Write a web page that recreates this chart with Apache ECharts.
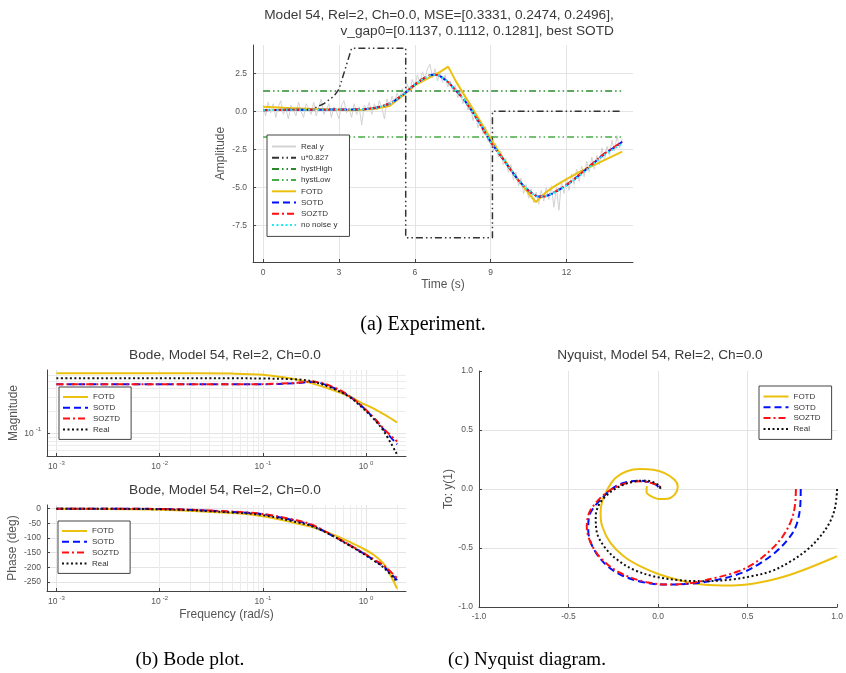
<!DOCTYPE html>
<html>
<head>
<meta charset="utf-8">
<script src="https://cdn.jsdelivr.net/npm/echarts@6/dist/echarts.min.js"></script>
<style>
  html, body { margin: 0; padding: 0; background: #fff; }
  #chart { width: 846px; height: 673px; }
</style>
</head>
<body>
<div id="chart"></div>
<script>
// ---- (a) experiment, time domain ----
// noisy measured output, one sample every 0.1 s from t = 0
const realY = [
  0.4, -0.3, 0.6, -0.1, 0.5, -0.4, 0.3, 0.7, -0.2, 0.2,
  -0.5, 0.4, 0.1, -0.3, 0.6, 0.0, -0.4, 0.5, 0.2, -0.2,
  0.6, -0.3, 0.3, 0.8, -0.2, 0.1, 0.5, -0.4, 0.3, 0.0,
  -0.5, 0.4, 0.7, -0.1, 0.2, -0.4, 0.5, -0.2, 0.3, -0.9,
  0.4, 0.1, 0.6, -0.2, 0.5, 0.1, 0.7, 0.2, -0.5, 0.8,
  0.3, 1.0, 0.6, 1.2, 0.8, 1.5, 1.0, 1.8, 1.3, 2.1,
  1.6, 2.4, 1.9, 2.6, 2.1, 2.8, 3.1, 2.2, 2.8, 2.0,
  2.6, 1.9, 2.4, 1.6, 2.0, 1.3, 1.7, 0.9, 1.4, 0.5,
  0.9, 0.1, 0.5, -0.6, -0.1, -1.1, -0.6, -1.5, -1.0, -2.0,
  -1.6, -2.6, -2.1, -3.0, -2.6, -3.5, -3.1, -4.0, -3.5, -4.5,
  -4.0, -4.9, -4.4, -5.4, -4.8, -5.7, -5.1, -6.0, -5.3, -6.1,
  -5.2, -5.9, -5.0, -5.8, -4.9, -6.3, -5.0, -6.5, -4.6, -5.4,
  -4.4, -5.2, -4.1, -4.8, -3.8, -4.6, -3.6, -4.3, -3.3, -4.0,
  -3.0, -3.8, -2.9, -3.5, -2.4, -3.2, -2.3, -2.9, -1.9, -2.6,
  -1.6, -2.4, -1.8
];
const tReal = realY.map((_, i) => +(i * 0.1).toFixed(1));

const tU = [0, 1.9, 2.4, 2.8, 3.0, 3.5, 5.64, 5.64, 9.07, 9.07, 14.2];
const uY = [0.1, 0.1, 0.5, 1.0, 1.45, 4.15, 4.15, -8.3, -8.3, 0, 0];

const tHyst = [0, 14.2];
const hystHighY = [1.34, 1.34];
const hystLowY = [-1.69, -1.69];

const tFotd = [0, 1, 2, 3, 3.5, 4, 4.5, 5, 5.5, 6, 6.5, 7, 7.32, 7.6, 8, 8.5, 9, 9.5, 10, 10.5, 10.79, 11.2, 11.5, 12, 12.5, 13, 13.5, 14.2];
const fotdY = [0.3, 0.22, 0.15, 0.1, 0.08, 0.1, 0.18, 0.35, 1.0, 1.7, 2.15, 2.6, 2.94, 2.05, 0.95, -0.4, -1.8, -3.1, -4.3, -5.4, -5.96, -5.3, -4.95, -4.45, -4.0, -3.6, -3.2, -2.65];

const tFit = [0, 1, 2, 3, 3.5, 4, 4.5, 5, 5.25, 5.5, 5.75, 6, 6.25, 6.5, 6.7, 6.9, 7.1, 7.3, 7.5, 7.75, 8, 8.5, 9, 9.5, 10, 10.25, 10.5, 10.7, 10.9, 11.1, 11.3, 11.5, 12, 12.5, 13, 13.5, 14, 14.2];
const sotdY = [0.08, 0.1, 0.1, 0.12, 0.12, 0.14, 0.25, 0.5, 0.75, 1.05, 1.4, 1.75, 2.05, 2.28, 2.4, 2.38, 2.2, 1.95, 1.6, 1.15, 0.65, -0.6, -2.0, -3.15, -4.3, -4.8, -5.2, -5.45, -5.6, -5.6, -5.5, -5.35, -4.85, -4.2, -3.5, -2.8, -2.25, -2.0];
const soztdY = [0.08, 0.1, 0.1, 0.12, 0.13, 0.15, 0.26, 0.52, 0.77, 1.07, 1.42, 1.77, 2.07, 2.3, 2.42, 2.39, 2.21, 1.95, 1.6, 1.14, 0.64, -0.62, -2.02, -3.17, -4.32, -4.82, -5.22, -5.46, -5.6, -5.6, -5.49, -5.33, -4.82, -4.17, -3.47, -2.78, -2.22, -1.98];
const noNoiseY = [0.08, 0.1, 0.1, 0.12, 0.12, 0.14, 0.25, 0.5, 0.75, 1.05, 1.4, 1.75, 2.05, 2.28, 2.4, 2.38, 2.2, 1.95, 1.6, 1.15, 0.65, -0.6, -2.0, -3.15, -4.3, -4.8, -5.2, -5.45, -5.6, -5.6, -5.5, -5.35, -4.87, -4.24, -3.55, -2.87, -2.33, -2.12];

// ---- (b) Bode ----
const wBode = [0.001, 0.01, 0.05, 0.1, 0.2, 0.3, 0.5, 0.7, 0.9, 1.2, 1.5, 2.0];
const magFotd = [0.631, 0.631, 0.625, 0.604, 0.53, 0.464, 0.37, 0.308, 0.256, 0.213, 0.179, 0.14];
const magSotd = [0.45, 0.45, 0.45, 0.452, 0.464, 0.483, 0.398, 0.308, 0.233, 0.158, 0.111, 0.072];
const magSoztd = [0.45, 0.45, 0.45, 0.453, 0.468, 0.49, 0.405, 0.31, 0.235, 0.16, 0.114, 0.078];
const magReal = [0.541, 0.541, 0.541, 0.538, 0.525, 0.494, 0.386, 0.302, 0.226, 0.154, 0.105, 0.0525];
const phFotd = [0, -3.4, -15, -26, -48, -62.5, -91, -114, -133, -159, -191, -273];
const phSotd = [0, -1, -11, -19, -40, -57, -97, -125, -148, -176, -199, -244];
const phSoztd = [0, -1, -10, -18, -38, -55, -96, -125, -147, -174, -195, -238];
const phReal = [0, -2, -13, -22, -44, -60, -97, -127, -150, -178, -203, -250];

// ---- (c) Nyquist ----
const nyFotdRe = [1.0, 0.742, 0.559, 0.412, 0.247, 0.119, 0.009, -0.101, -0.192, -0.266, -0.312, -0.321, -0.312, -0.284, -0.238, -0.174, -0.101, -0.027, 0.037, 0.092, 0.11, 0.097, 0.055, 0.009, -0.037, -0.064, -0.064, -0.06];
const nyFotdIm = [-0.57, -0.725, -0.795, -0.818, -0.81, -0.773, -0.725, -0.654, -0.57, -0.457, -0.316, -0.203, -0.104, -0.006, 0.093, 0.15, 0.169, 0.164, 0.135, 0.079, 0.023, -0.039, -0.082, -0.085, -0.062, -0.028, 0.008, 0.023];
const nySotdRe = [0.797, 0.794, 0.77, 0.724, 0.651, 0.559, 0.467, 0.339, 0.192, 0.046, -0.082, -0.211, -0.302, -0.367, -0.39, -0.385, -0.361, -0.321, -0.275, -0.22, -0.156, -0.101, -0.046, -0.009, 0.009];
const nySotdIm = [0, -0.147, -0.316, -0.429, -0.542, -0.64, -0.711, -0.767, -0.801, -0.81, -0.79, -0.725, -0.626, -0.485, -0.344, -0.231, -0.161, -0.09, -0.02, 0.037, 0.065, 0.071, 0.056, 0.034, 0];
const nySoztdRe = [0.77, 0.764, 0.742, 0.697, 0.632, 0.541, 0.449, 0.321, 0.192, 0.073, -0.064, -0.211, -0.312, -0.376, -0.398, -0.385, -0.348, -0.302, -0.247, -0.174, -0.101, -0.037, 0.009, 0.018];
const nySoztdIm = [0, -0.147, -0.274, -0.4, -0.513, -0.626, -0.697, -0.753, -0.795, -0.81, -0.79, -0.711, -0.598, -0.457, -0.316, -0.203, -0.118, -0.048, 0.008, 0.051, 0.065, 0.051, 0.023, 0];
const nyRealRe = [1.0, 0.99, 0.962, 0.907, 0.834, 0.742, 0.632, 0.522, 0.412, 0.266, 0.119, -0.027, -0.137, -0.229, -0.302, -0.343, -0.348, -0.33, -0.293, -0.247, -0.192, -0.128, -0.064, -0.018, 0.009, 0.013];
const nyRealIm = [0, -0.147, -0.274, -0.4, -0.513, -0.612, -0.697, -0.739, -0.767, -0.781, -0.773, -0.739, -0.683, -0.598, -0.485, -0.358, -0.231, -0.133, -0.062, -0.006, 0.037, 0.065, 0.071, 0.051, 0.023, 0];

const FONT = 'Liberation Sans';
const COL = {
  fotd: '#ecc00f', sotd: '#0010ff', soztd: '#ff1010', real: '#111111',
  cyan: '#20ecf4', hystHigh: '#2a8a2a', hystLow: '#46ac46', u: '#333333', noisy: '#d2d2d2'
};
const DASH = [7, 4];
const DASHDOT = [7, 3, 2, 3];
const DOT = [2, 2.5];
const DASHDOTDOT = [7, 3, 1.5, 3, 1.5, 3];

function mk(name, gi, xs, ys, color, width, dash, z, smooth) {
  return {
    name, type: 'line', xAxisIndex: gi, yAxisIndex: gi,
    data: xs.map((x, i) => [x, ys[i]]),
    symbol: 'none', showSymbol: false, animation: false, silent: true,
    smooth: smooth || false,
    lineStyle: { color, width, type: dash || 'solid' },
    itemStyle: { color }, z: z || 2
  };
}

const labelStyle = { color: '#555', fontSize: 8.5, fontFamily: FONT };
const nameStyle = { color: '#555', fontSize: 12, fontFamily: FONT };
const axisLine = { show: true, onZero: false, lineStyle: { color: '#444', width: 1 } };
const axisTick = { show: true, inside: true, length: 3, lineStyle: { color: '#444' } };
const splitLine = { show: true, showMinLine: false, showMaxLine: false, lineStyle: { color: '#e4e4e4', width: 1 } };

const logLabel = {
  ...labelStyle,
  showMinLabel: false, showMaxLabel: false,
  formatter: v => '{b|10}{s|' + Math.round(Math.log10(v)) + '}',
  rich: {
    b: { fontSize: 8.5, color: '#555', fontFamily: FONT, lineHeight: 14 },
    s: { fontSize: 6, color: '#555', fontFamily: FONT, lineHeight: 7, verticalAlign: 'top', padding: [0, 0, 0, 2] }
  }
};

// minor grid of the log axes
const minorW = [];
for (let d = -3; d <= 0; d++) for (let k = 2; k <= 9; k++) { const v = k * Math.pow(10, d); if (v < 2.4) minorW.push(v); }
const minorMag = [0.06, 0.07, 0.08, 0.09, 0.2, 0.3, 0.4, 0.5, 0.6];
const minorLine = (xs, ys) => ({
  silent: true, symbol: ['none', 'none'], label: { show: false }, animation: false, z: 0,
  lineStyle: { color: '#ececec', width: 1, type: 'solid' },
  emphasis: { disabled: true },
  data: xs.map(v => ({ xAxis: v })).concat(ys.map(v => ({ yAxis: v })))
});

const legendBase = {
  orient: 'vertical', backgroundColor: '#fff', borderColor: '#444', borderWidth: 1,
  borderRadius: 0, itemWidth: 25, itemHeight: 8, itemGap: 2.8, z: 10,
  itemStyle: { opacity: 0, borderWidth: 0 },
  textStyle: { color: '#333', fontSize: 8, fontFamily: FONT, lineHeight: 8 },
  selectedMode: false
};
const fitNames = ['FOTD', 'SOTD', 'SOZTD', 'Real'];

const titleStyle = { color: '#3a3a3a', fontSize: 13.7, fontWeight: 'normal', fontFamily: FONT };
const SM = 0.35;

const option = {
  animation: false,
  backgroundColor: '#fff',
  textStyle: { fontFamily: FONT },
  title: [
    { text: 'Model 54, Rel=2, Ch=0.0, MSE=[0.3331, 0.2474, 0.2496],', left: 439, top: 8, textAlign: 'center', padding: 0, textStyle: titleStyle },
    { text: 'v_gap0=[0.1137, 0.1112, 0.1281], best SOTD', right: 232, top: 24.5, padding: 0, textStyle: titleStyle },
    { text: 'Bode, Model 54, Rel=2, Ch=0.0', left: 225, top: 348, textAlign: 'center', padding: 0, textStyle: titleStyle },
    { text: 'Bode, Model 54, Rel=2, Ch=0.0', left: 225, top: 483, textAlign: 'center', padding: 0, textStyle: titleStyle },
    { text: 'Nyquist, Model 54, Rel=2, Ch=0.0', left: 660, top: 348, textAlign: 'center', padding: 0, textStyle: titleStyle }
  ],
  legend: [
    { ...legendBase, left: 267, top: 135, itemWidth: 24, itemGap: 3.2, padding: [7.5, 12, 7.5, 4],
      data: ['Real y', 'u*0.827', 'hystHigh', 'hystLow', 'FOTD', 'SOTD', 'SOZTD', 'no noise y'] },
    { ...legendBase, left: 59, top: 387, padding: [6, 11, 6, 3], data: fitNames },
    { ...legendBase, left: 58, top: 521, padding: [6, 11, 6, 3], data: fitNames },
    { ...legendBase, left: 759, top: 386, padding: [6.5, 11, 6.5, 3.5], data: fitNames }
  ],
  grid: [
    { left: 253, top: 45, width: 380, height: 217 },
    { left: 47, top: 370, width: 359, height: 86 },
    { left: 47, top: 505, width: 359, height: 86 },
    { left: 479, top: 371, width: 364, height: 236 }
  ],
  xAxis: [
    { gridIndex: 0, type: 'value', min: -0.4, max: 14.63, minInterval: 3, maxInterval: 3,
      name: 'Time (s)', nameLocation: 'middle', nameGap: 17, nameTextStyle: nameStyle,
      axisLine, axisTick, splitLine,
      axisLabel: { ...labelStyle, showMinLabel: false, showMaxLabel: false, margin: 6 } },
    { gridIndex: 1, type: 'log', logBase: 10, min: 0.00081, max: 2.44,
      axisLine, axisTick, splitLine, axisLabel: { ...logLabel, margin: 4 } },
    { gridIndex: 2, type: 'log', logBase: 10, min: 0.00081, max: 2.44,
      name: 'Frequency (rad/s)', nameLocation: 'middle', nameGap: 18, nameTextStyle: nameStyle,
      axisLine, axisTick, splitLine, axisLabel: { ...logLabel, margin: 4 } },
    { gridIndex: 3, type: 'value', min: -1, max: 1, interval: 0.5,
      axisLine, axisTick, splitLine: { ...splitLine, showMinLine: true },
      axisLabel: { ...labelStyle, margin: 5, formatter: v => v.toFixed(1) } }
  ],
  yAxis: [
    { gridIndex: 0, type: 'value', min: -9.9, max: 4.36, minInterval: 2.5, maxInterval: 2.5,
      name: 'Amplitude', nameLocation: 'middle', nameGap: 26, nameTextStyle: nameStyle,
      axisLine, axisTick, splitLine,
      axisLabel: { ...labelStyle, showMinLabel: false, showMaxLabel: false, margin: 6, formatter: v => v.toFixed(1) } },
    { gridIndex: 1, type: 'log', logBase: 10, min: 0.0502, max: 0.698,
      name: 'Magnitude', nameLocation: 'middle', nameGap: 27, nameTextStyle: nameStyle,
      axisLine, axisTick, splitLine, axisLabel: { ...logLabel, margin: 6 } },
    { gridIndex: 2, type: 'value', min: -281, max: 12.5, minInterval: 50, maxInterval: 50,
      name: 'Phase (deg)', nameLocation: 'middle', nameGap: 28, nameTextStyle: nameStyle,
      axisLine, axisTick, splitLine,
      axisLabel: { ...labelStyle, showMinLabel: false, showMaxLabel: false, margin: 6 } },
    { gridIndex: 3, type: 'value', min: -1, max: 1, interval: 0.5,
      name: 'To: y(1)', nameLocation: 'middle', nameGap: 24, nameTextStyle: nameStyle,
      axisLine, axisTick, splitLine: { ...splitLine, showMinLine: true },
      axisLabel: { ...labelStyle, margin: 6, formatter: v => v.toFixed(1) } }
  ],
  series: [
    mk('Real y', 0, tReal, realY, COL.noisy, 1, 'solid', 1),
    mk('u*0.827', 0, tU, uY, COL.u, 1.5, DASHDOTDOT),
    mk('hystHigh', 0, tHyst, hystHighY, COL.hystHigh, 1.5, DASHDOTDOT),
    mk('hystLow', 0, tHyst, hystLowY, COL.hystLow, 1.5, DASHDOTDOT),
    mk('FOTD', 0, tFotd, fotdY, COL.fotd, 2),
    mk('SOTD', 0, tFit, sotdY, COL.sotd, 2, DASH, 2, SM),
    mk('SOZTD', 0, tFit, soztdY, COL.soztd, 2, DASHDOT, 2, SM),
    mk('no noise y', 0, tFit, noNoiseY, COL.cyan, 2, DOT, 2, SM),

    Object.assign(mk('FOTD', 1, wBode, magFotd, COL.fotd, 2, 'solid', 2, SM), { markLine: minorLine(minorW, minorMag) }),
    mk('SOTD', 1, wBode, magSotd, COL.sotd, 2, DASH, 2, SM),
    mk('SOZTD', 1, wBode, magSoztd, COL.soztd, 2, DASHDOT, 2, SM),
    mk('Real', 1, wBode, magReal, COL.real, 2, DOT, 2, SM),

    Object.assign(mk('FOTD', 2, wBode, phFotd, COL.fotd, 2, 'solid', 2, SM), { markLine: minorLine(minorW, []) }),
    mk('SOTD', 2, wBode, phSotd, COL.sotd, 2, DASH, 2, SM),
    mk('SOZTD', 2, wBode, phSoztd, COL.soztd, 2, DASHDOT, 2, SM),
    mk('Real', 2, wBode, phReal, COL.real, 2, DOT, 2, SM),

    mk('FOTD', 3, nyFotdRe, nyFotdIm, COL.fotd, 2, 'solid', 2, SM),
    mk('SOTD', 3, nySotdRe, nySotdIm, COL.sotd, 2, DASH, 2, SM),
    mk('SOZTD', 3, nySoztdRe, nySoztdIm, COL.soztd, 2, DASHDOT, 2, SM),
    mk('Real', 3, nyRealRe, nyRealIm, COL.real, 2, DOT, 2, SM)
  ],
  graphic: [
    { type: 'text', x: 423, y: 325, style: { text: '(a) Experiment.', font: '20px "Liberation Serif"', fill: '#000', align: 'center', verticalAlign: 'middle', textAlign: 'center', textVerticalAlign: 'middle' } },
    { type: 'text', x: 190, y: 660, style: { text: '(b) Bode plot.', font: '19.5px "Liberation Serif"', fill: '#000', align: 'center', verticalAlign: 'middle', textAlign: 'center', textVerticalAlign: 'middle' } },
    { type: 'text', x: 527, y: 660, style: { text: '(c) Nyquist diagram.', font: '19px "Liberation Serif"', fill: '#000', align: 'center', verticalAlign: 'middle', textAlign: 'center', textVerticalAlign: 'middle' } }
  ]
};

const chart = echarts.init(document.getElementById('chart'), null, { renderer: 'canvas' });
chart.setOption(option);
</script>
</body>
</html>
